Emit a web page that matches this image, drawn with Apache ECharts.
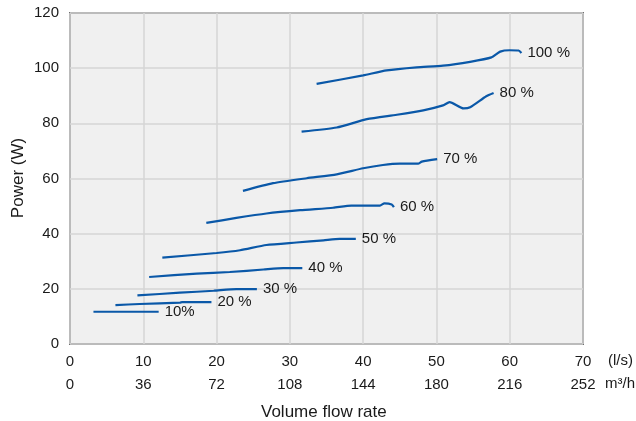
<!DOCTYPE html>
<html>
<head>
<meta charset="utf-8">
<script src="https://cdn.jsdelivr.net/npm/echarts@6/dist/echarts.min.js"></script>
<style>html,body{margin:0;padding:0;background:#fff;}#c{width:636px;height:421px;}</style>
</head>
<body>
<div id="c"></div>
<script>
const xTicksLs = [0, 10, 20, 30, 40, 50, 60, 70];
const xTicksM3h = [0, 36, 72, 108, 144, 180, 216, 252];
const yTicks = [0, 20, 40, 60, 80, 100, 120];
const seriesNames = ['10%', '20 %', '30 %', '40 %', '50 %', '60 %', '70 %', '80 %', '100 %'];
const s10 = [[3.2, 11.7], [12.1, 11.7]];
const s20 = [[6.2, 14.1], [9.5, 14.5], [15.0, 15.0], [15.3, 15.2], [19.3, 15.2]];
const s30 = [[9.2, 17.6], [15.0, 18.6], [19.6, 19.3], [22.7, 19.9], [25.5, 19.9]];
const s40 = [[10.8, 24.3], [17.3, 25.5], [21.8, 26.1], [26.4, 27.0], [29.1, 27.5], [31.7, 27.5]];
const s50 = [[12.6, 31.3], [20.0, 33.0], [23.2, 34.0], [26.8, 35.9], [30.9, 36.8], [34.6, 37.6], [36.8, 38.1], [39.0, 38.1]];
const s60 = [[18.6, 43.9], [22.7, 45.7], [26.8, 47.3], [31.4, 48.5], [35.9, 49.4], [38.4, 50.2], [42.3, 50.2], [42.9, 51.0], [43.9, 50.6], [44.2, 49.6]];
const s70 = [[23.6, 55.5], [27.7, 58.3], [32.3, 60.1], [36.4, 61.5], [40.0, 63.7], [42.7, 64.9], [45.0, 65.4], [47.5, 65.4], [48.0, 66.1], [50.1, 67.0]];
const s80 = [[31.6, 77.0], [36.4, 78.5], [40.5, 81.5], [44.6, 83.1], [48.2, 84.7], [50.9, 86.5], [51.8, 87.7], [53.7, 85.4], [54.6, 85.8], [56.8, 89.8], [57.8, 91.0]];
const s100 = [[33.65, 94.3], [40.0, 97.4], [43.2, 99.2], [47.3, 100.3], [50.9, 100.9], [54.6, 102.3], [57.5, 103.9], [58.7, 106.0], [60.0, 106.5], [61.2, 106.4], [61.6, 105.5]];
const allData = [s10, s20, s30, s40, s50, s60, s70, s80, s100];

const chart = echarts.init(document.getElementById('c'));
const font = 'Liberation Sans, Arial, sans-serif';
const lineColor = '#0a58a8';
const txt = '#1a1a1a';
chart.setOption({
  animation: false,
  backgroundColor: '#ffffff',
  textStyle: { fontFamily: font },
  grid: { left: 70, right: 53, top: 13, bottom: 77, show: true, outerBoundsMode: 'none', containLabel: false, backgroundColor: '#f0f0f0', borderColor: '#6e6e6e', borderWidth: 2 },
  xAxis: [
    {
      type: 'value', min: xTicksLs[0], max: xTicksLs[xTicksLs.length - 1], interval: 10, position: 'bottom',
      axisLine: { show: false }, axisTick: { show: false },
      splitLine: { show: true, lineStyle: { color: '#d6d6d6', width: 1.5 } },
      axisLabel: { color: txt, fontSize: 15, margin: 10, fontFamily: font }
    },
    {
      type: 'value', min: xTicksM3h[0], max: xTicksM3h[xTicksM3h.length - 1], interval: 36, position: 'bottom', offset: 23,
      axisLine: { show: false }, axisTick: { show: false }, splitLine: { show: false },
      axisLabel: { color: txt, fontSize: 15, margin: 10, fontFamily: font }
    }
  ],
  yAxis: {
    type: 'value', min: yTicks[0], max: yTicks[yTicks.length - 1], interval: 20,
    axisLine: { show: false }, axisTick: { show: false },
    splitLine: { show: true, lineStyle: { color: '#d6d6d6', width: 1.5 } },
    axisLabel: { color: txt, fontSize: 15, margin: 11, fontFamily: font }
  },
  graphic: [
    { type: 'text', x: 18, y: 178, rotation: Math.PI / 2, style: { text: 'Power (W)', fill: txt, font: '17px ' + font, align: 'center', verticalAlign: 'middle' } },
    { type: 'text', left: 608, top: 353, style: { text: '(l/s)', fill: txt, font: '15px ' + font } },
    { type: 'text', left: 605, top: 376, style: { text: 'm³/h', fill: txt, font: '15px ' + font } },
    { type: 'text', left: 261, top: 404, style: { text: 'Volume flow rate', fill: txt, font: '17px ' + font } }
  ],
  series: allData.map((d, i) => ({
    type: 'line', name: seriesNames[i], data: d, xAxisIndex: 0, showSymbol: false, smooth: 0.2,
    lineStyle: { color: lineColor, width: 2.2 },
    endLabel: { show: true, formatter: seriesNames[i], color: txt, fontSize: 15, distance: 6, fontFamily: font }
  }))
});
</script>
</body>
</html>
